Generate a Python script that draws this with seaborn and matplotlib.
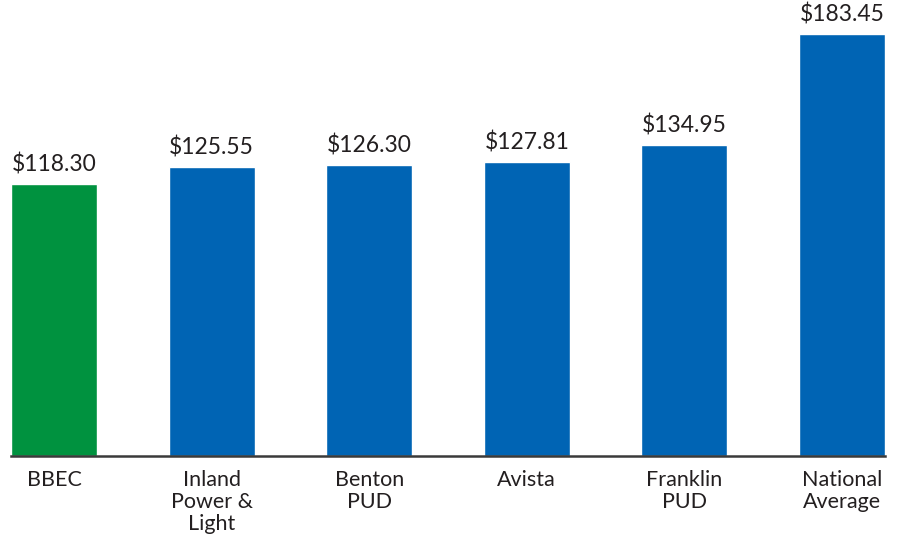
import matplotlib
matplotlib.use("Agg")
import matplotlib.pyplot as plt
import seaborn as sns
import pandas as pd

# Data
utilities = ["BBEC", "Inland\nPower &\nLight", "Benton\nPUD", "Avista",
             "Franklin\nPUD", "National\nAverage"]
monthly_bill = [118.30, 125.55, 126.30, 127.81, 134.95, 183.45]
bar_colors = ["#00923F", "#0064B4", "#0064B4", "#0064B4", "#0064B4", "#0064B4"]

df = pd.DataFrame({"utility": utilities, "bill": monthly_bill})

sns.set_style("white")
plt.rcParams["font.family"] = ["Lato", "DejaVu Sans"]

fig = plt.figure(figsize=(8.98, 5.39), dpi=100)
# axes spans from the first bar's left edge to the last bar's right edge
ax = fig.add_axes([11 / 898, (539 - 456) / 539, 874 / 898, 456 / 539])

sns.barplot(data=df, x="utility", y="bill", hue="utility", palette=bar_colors,
            width=0.546, legend=False, ax=ax, saturation=1)

ax.set_xlim(-0.273, 5.273)
ax.set_ylim(0, 198)

# value labels above the bars
for i, v in enumerate(monthly_bill):
    ax.annotate(f"${v:.2f}", (i, v), xytext=(0, 6), textcoords="offset points",
                ha="center", va="bottom", fontsize=16.5, color="#231F20")

ax.set_xlabel("")
ax.set_ylabel("")
ax.set_yticks([])
ax.tick_params(axis="x", length=0, pad=10, labelsize=15.5, colors="#231F20")
for lbl in ax.get_xticklabels():
    lbl.set_linespacing(1.12)

for side in ["left", "right", "top"]:
    ax.spines[side].set_visible(False)
ax.spines["bottom"].set_color("#3A3A3A")
ax.spines["bottom"].set_linewidth(1.8)

fig.savefig("out.png", dpi=100)
